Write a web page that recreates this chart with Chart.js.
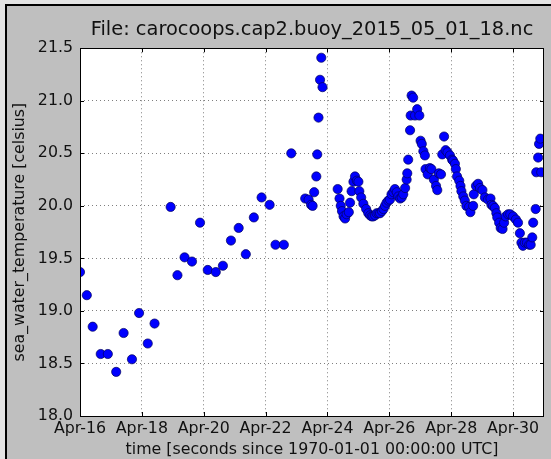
<!DOCTYPE html>
<html><head><meta charset="utf-8">
<script src="https://cdn.jsdelivr.net/npm/chart.js@4"></script>
<style>html,body{margin:0;padding:0;background:#e3e3e3;}canvas{display:block;}</style>
</head><body><canvas id="c" width="551" height="459"></canvas>
<script>
// time in days since 2015-04-16 00:00 UTC
const timeDays = [
  0.00,0.22,0.41,0.67,0.90,1.17,1.41,1.68,1.91,2.19,2.41,2.93,3.15,3.38,3.62,3.88,4.13,4.39,4.62,4.88,5.13,5.36,5.62,5.87,6.13,6.32,6.59,6.83,
  7.28,7.39,7.47,7.52,7.57,7.64,7.67,7.71,7.76,7.80,7.84,
  8.33,8.39,8.43,8.47,8.52,8.57,8.62,8.69,8.73,8.78,8.84,8.89,8.95,9.00,9.03,9.09,9.16,9.25,9.32,9.38,9.43,9.48,9.54,9.59,9.65,9.70,9.76,9.81,9.86,9.91,9.97,
  10.02,10.07,10.13,10.18,10.24,10.29,10.35,10.40,10.45,10.51,10.56,10.58,10.61,10.67,10.69,10.72,10.77,10.83,10.90,10.97,
  11.01,11.05,11.10,11.15,11.17,11.24,11.31,11.36,11.44,11.51,11.55,11.60,11.67,11.71,11.77,11.82,11.88,11.96,
  12.03,12.06,12.12,12.15,12.19,12.26,12.30,12.33,12.39,12.44,12.49,12.58,12.62,12.71,12.73,12.80,12.87,12.93,
  13.01,13.09,13.19,13.27,13.30,13.35,13.41,13.46,13.49,13.55,13.60,13.66,13.71,13.76,13.84,13.91,
  14.00,14.09,14.16,14.22,14.27,14.32,14.38,14.45,14.52,14.57,14.62,14.65,14.73,14.75,14.81,14.84,14.88,14.91
];
const temperature = [
  19.37,19.15,18.85,18.59,18.59,18.42,18.79,18.54,18.98,18.69,18.88,19.99,19.34,19.51,19.47,19.84,19.39,19.37,19.43,19.67,19.79,19.54,19.89,20.08,20.01,19.63,19.63,20.50,
  20.07,20.06,20.01,20.00,20.13,20.28,20.49,20.84,21.20,21.41,21.13,
  20.16,20.07,20.00,19.95,19.90,19.88,19.92,19.94,20.03,20.14,20.23,20.28,20.24,20.23,20.14,20.08,20.02,19.97,19.93,19.91,19.90,19.90,19.91,19.93,19.93,19.93,19.95,19.97,20.00,20.03,20.05,
  20.06,20.11,20.13,20.16,20.13,20.09,20.07,20.08,20.11,20.17,20.25,20.31,20.44,20.72,20.86,21.05,21.03,20.86,20.92,20.86,
  20.62,20.59,20.52,20.48,20.35,20.30,20.36,20.35,20.25,20.19,20.15,20.31,20.30,20.49,20.66,20.53,20.51,20.48,
  20.44,20.43,20.40,20.35,20.28,20.24,20.19,20.14,20.09,20.05,20.00,19.99,19.94,20.00,20.11,20.19,20.21,20.17,
  20.15,20.08,20.06,20.07,20.01,20.00,19.98,19.93,19.89,19.84,19.79,19.78,19.84,19.90,19.92,19.92,
  19.90,19.87,19.84,19.74,19.65,19.62,19.65,19.65,19.63,19.63,19.70,19.84,19.97,20.32,20.46,20.59,20.64,20.32
];
const xTickDays = [0,2,4,6,8,10,12,14];
const xTickLabels = ['Apr-16','Apr-18','Apr-20','Apr-22','Apr-24','Apr-26','Apr-28','Apr-30'];
const yTickValues = [18.0,18.5,19.0,19.5,20.0,20.5,21.0,21.5];
const chartTitle = 'File: carocoops.cap2.buoy_2015_05_01_18.nc';
const xAxisTitle = 'time [seconds since 1970-01-01 00:00:00 UTC]';
const yAxisTitle = 'sea_water_temperature [celsius]';

const framePlugin = {
  id: 'frame',
  afterLayout(chart) {
    // centre the title over the plotting area, like matplotlib
    if (chart.titleBlock) {
      chart.titleBlock.left = chart.chartArea.left;
      chart.titleBlock.right = chart.chartArea.right;
    }
  },
  beforeDraw(chart) {
    const ctx = chart.ctx, a = chart.chartArea;
    ctx.save();
    ctx.fillStyle = '#e3e3e3'; ctx.fillRect(0, 0, 551, 459);
    ctx.fillStyle = '#bfbfbf'; ctx.fillRect(6, 5, 545, 454);
    ctx.fillStyle = '#000'; ctx.fillRect(5, 4, 2, 455); ctx.fillRect(5, 4, 546, 2);
    ctx.fillStyle = '#fff'; ctx.fillRect(a.left, a.top, a.right - a.left, a.bottom - a.top);
    ctx.restore();
  },
  afterDatasetsDraw(chart) {
    const ctx = chart.ctx, a = chart.chartArea;
    const xs = chart.scales.x, ys = chart.scales.y;
    ctx.save();
    ctx.strokeStyle = '#000'; ctx.lineWidth = 1;
    ctx.beginPath();
    xTickDays.forEach(v => {
      const px = Math.round(xs.getPixelForValue(v)) + 0.5;
      ctx.moveTo(px, a.bottom); ctx.lineTo(px, a.bottom - 4);
      ctx.moveTo(px, a.top); ctx.lineTo(px, a.top + 4);
    });
    yTickValues.forEach(v => {
      const py = Math.round(ys.getPixelForValue(v)) + 0.5;
      ctx.moveTo(a.left, py); ctx.lineTo(a.left + 4, py);
      ctx.moveTo(a.right, py); ctx.lineTo(a.right - 4, py);
    });
    ctx.stroke();
    ctx.strokeRect(Math.round(a.left) + 0.5, Math.round(a.top) + 0.5, Math.round(a.right - a.left) - 1, Math.round(a.bottom - a.top));
    ctx.restore();
  }
};

Chart.defaults.font.family = "'DejaVu Sans', sans-serif";
Chart.defaults.color = '#111';

new Chart(document.getElementById('c'), {
  type: 'scatter',
  data: {
    datasets: [{
      data: timeDays.map((d, i) => ({ x: d, y: temperature[i] })),
      backgroundColor: '#0000ff',
      borderColor: '#00005a',
      borderWidth: 0.7,
      pointRadius: 4.6,
      pointHoverRadius: 4.6
    }]
  },
  options: {
    responsive: false,
    animation: false,
    devicePixelRatio: 1,
    layout: { padding: { left: 7, right: 7, top: 6, bottom: 0 } },
    plugins: {
      legend: { display: false },
      tooltip: { enabled: false },
      title: {
        display: true, text: chartTitle,
        font: { size: 19.4, weight: 'normal' }, color: '#111',
        padding: { top: 12, bottom: 7 }
      }
    },
    scales: {
      x: {
        type: 'linear', min: 0, max: 15,
        afterBuildTicks: s => { s.ticks = xTickDays.map(v => ({ value: v })); },
        afterFit: s => { s.height = 43; },
        ticks: { font: { size: 15.8 }, padding: 3, maxRotation: 0, autoSkip: false,
                 callback: v => xTickLabels[xTickDays.indexOf(v)] },
        grid: { color: 'rgba(0,0,0,0.5)', drawTicks: false, lineWidth: 1 },
        border: { display: false, dash: [1, 3] },
        title: { display: true, text: xAxisTitle, font: { size: 15.8 }, color: '#111', padding: { top: 0, bottom: 0 } }
      },
      y: {
        type: 'linear', min: 18, max: 21.5,
        afterBuildTicks: s => { s.ticks = yTickValues.map(v => ({ value: v })); },
        afterFit: s => { s.width = 73; },
        ticks: { font: { size: 15.8 }, padding: 7, autoSkip: false, callback: v => v.toFixed(1) },
        grid: { color: 'rgba(0,0,0,0.5)', drawTicks: false, lineWidth: 1 },
        border: { display: false, dash: [1, 3] },
        title: { display: true, text: yAxisTitle, font: { size: 15.8 }, color: '#111', padding: { top: 3.5, bottom: 0 } }
      }
    }
  },
  plugins: [framePlugin]
});
</script>
</body></html>
